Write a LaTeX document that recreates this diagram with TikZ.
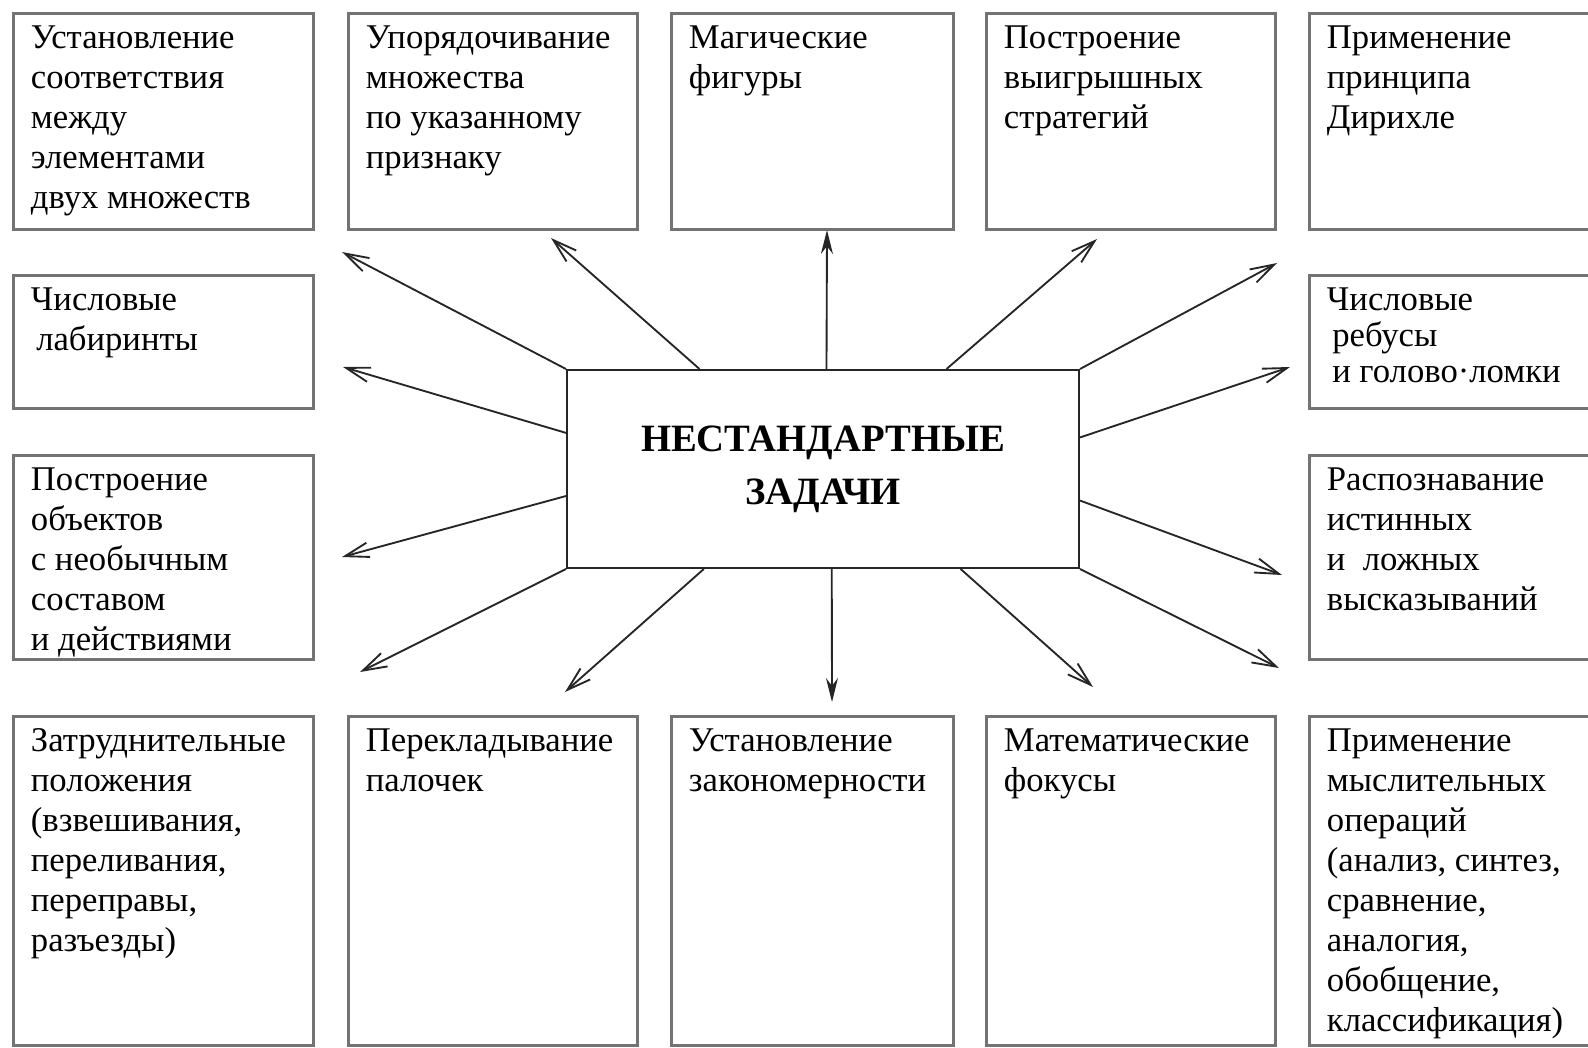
\documentclass[tikz,border=0pt]{standalone}
\usepackage{fontspec}
\setmainfont{Liberation Serif}
\usetikzlibrary{arrows.meta}

\tikzset{
  cell/.style={draw=black!55, line width=2.2pt, anchor=north west, inner sep=0pt},
  txt/.style={anchor=north west, align=left, inner sep=0pt, xshift=14pt, yshift=-10pt,
    font=\fontsize{26}{30}\selectfont},
  arr/.style={draw=black!85, line width=1.4pt, -{Straight Barb[length=18pt,width=11pt]}},
  varr/.style={draw=black!85, line width=1.4pt, -{Stealth[length=18pt,width=9pt]}}
}

\begin{document}
\begin{tikzpicture}[x=0.75pt,y=-0.75pt]
    \useasboundingbox (0,0) rectangle (1588,1047);

    % centre
    \node[draw=black!85, line width=1.5pt, minimum width=384pt, minimum height=148.5pt,
      align=center, font=\fontsize{29}{40}\selectfont\bfseries] (zad) at (823,469)
      {НЕСТАНДАРТНЫЕ\\ЗАДАЧИ};

    % top row
    \node[cell, minimum width=225pt, minimum height=162pt, label={[txt]north west:Установление\\соответствия\\между\\элементами\\двух множеств}] (b1) at (12,12) {};
    \node[cell, minimum width=216.75pt, minimum height=162pt, label={[txt]north west:Упорядочивание\\множества\\по указанному\\признаку}] (b2) at (347,12) {};
    \node[cell, minimum width=211.5pt, minimum height=162pt, label={[txt]north west:Магические\\фигуры}] (b3) at (670,12) {};
    \node[cell, minimum width=216.75pt, minimum height=162pt, label={[txt]north west:Построение\\выигрышных\\стратегий}] (b4) at (985,12) {};
    \node[cell, minimum width=219pt, minimum height=162pt, label={[txt]north west:Применение\\принципа\\Дирихле}] (b5) at (1308,12) {};

    % left and right
    \node[cell, minimum width=225pt, minimum height=99.75pt, label={[txt]north west:Числовые\\\hspace*{4pt}лабиринты}] (l1) at (12,274) {};
    \node[cell, minimum width=225pt, minimum height=153pt, label={[txt]north west:Построение\\объектов\\с необычным\\составом\\и действиями}] (l2) at (12,454) {};
    \node[cell, minimum width=219pt, minimum height=99.75pt, label={[txt, font=\fontsize{26}{27}\selectfont]north west:Числовые\\\hspace*{4pt}ребусы\\\hspace*{4pt}и голово·ломки}] (r1) at (1308,274) {};
    \node[cell, minimum width=219pt, minimum height=153pt, label={[txt]north west:Распознавание\\истинных\\и~~ложных\\высказываний}] (r2) at (1308,454) {};

    % bottom row
    \node[cell, minimum width=225pt, minimum height=246.75pt, label={[txt]north west:Затруднительные\\положения\\(взвешивания,\\переливания,\\переправы,\\разъезды)}] (d1) at (12,715) {};
    \node[cell, minimum width=216.75pt, minimum height=246.75pt, label={[txt]north west:Перекладывание\\палочек}] (d2) at (347,715) {};
    \node[cell, minimum width=211.5pt, minimum height=246.75pt, label={[txt]north west:Установление\\закономерности}] (d3) at (670,715) {};
    \node[cell, minimum width=216.75pt, minimum height=246.75pt, label={[txt]north west:Математические\\фокусы}] (d4) at (985,715) {};
    \node[cell, minimum width=219pt, minimum height=246.75pt, label={[txt]north west:Применение\\мыслительных\\операций\\(анализ, синтез,\\сравнение,\\аналогия,\\обобщение,\\классификация)}] (d5) at (1308,715) {};

    % arrow ends
    \coordinate (t1) at (342,252);
    \coordinate (t2) at (551,238);
    \coordinate (t3) at (827,230);
    \coordinate (t4) at (1097,239);
    \coordinate (t5) at (1277,263);
    \coordinate (t6) at (1290,367);
    \coordinate (t7) at (1282,575);
    \coordinate (t8) at (1279,668);
    \coordinate (t9) at (1093,687);
    \coordinate (t10) at (832,702);
    \coordinate (t11) at (565,692);
    \coordinate (t12) at (360,672);
    \coordinate (t13) at (342,557);
    \coordinate (t14) at (343,367);

    % arrows
    \foreach \a/\t in {north west/t1, 141/t2, 39/t4, north east/t5, 7/t6, 353/t7,
        south east/t8, 324/t9, 220/t11, south west/t12, 186/t13, 172/t14}
        \draw[arr] (zad.\a) -- (\t);
    \draw[varr] (zad.88) -- (t3);
    \draw[varr] (zad.275) -- (t10);
\end{tikzpicture}
\end{document}
